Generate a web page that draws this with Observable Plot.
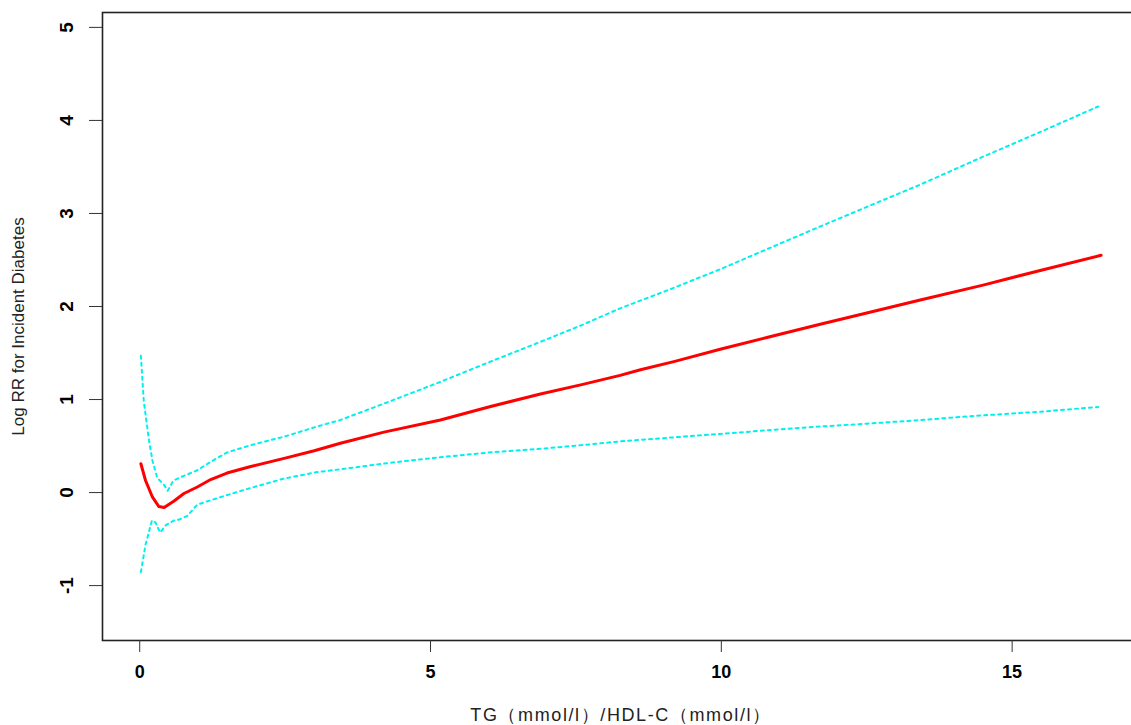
<!DOCTYPE html>
<html>
<head>
<meta charset="utf-8">
<script src="https://cdn.jsdelivr.net/npm/d3@7"></script>
<script src="https://cdn.jsdelivr.net/npm/@observablehq/plot@0.6"></script>
<style>
  html, body { margin: 0; padding: 0; background: #fff; overflow: hidden; }
</style>
</head>
<body>
<div id="chart"></div>
<script>
// Estimate (red solid line)
const estX = [0.02,0.10,0.22,0.33,0.42,0.59,0.76,0.99,1.22,1.5,1.91,2.5,3.0,3.45,4.2,5.17,6.0,6.89,7.6,8.26,8.61,9.2,9.98,10.8,11.70,12.5,13.42,14.5,15.5,16.53];
const estY = [0.31,0.13,-0.05,-0.15,-0.16,-0.09,-0.01,0.06,0.14,0.21,0.28,0.37,0.45,0.53,0.65,0.78,0.92,1.06,1.16,1.26,1.32,1.41,1.54,1.67,1.81,1.93,2.07,2.23,2.39,2.55];

// Upper 95% CI (cyan dotted)
const upX = [0.02,0.07,0.16,0.22,0.30,0.42,0.48,0.58,0.76,0.99,1.22,1.5,1.91,2.48,3.05,3.45,4.3,5.17,6.0,6.89,7.6,8.26,9.1,9.98,10.8,11.70,12.5,13.42,14.5,15.5,16.48];
const upY = [1.47,0.98,0.56,0.34,0.16,0.08,0.02,0.13,0.18,0.24,0.33,0.43,0.51,0.60,0.71,0.78,0.98,1.19,1.40,1.62,1.80,1.98,2.18,2.40,2.62,2.86,3.07,3.31,3.61,3.88,4.15];

// Lower 95% CI (cyan dotted)
const loX = [0.02,0.10,0.16,0.21,0.27,0.35,0.45,0.59,0.68,0.82,0.99,1.33,1.91,2.48,3.05,3.45,4.3,5.17,6.0,6.89,7.6,8.26,9.1,9.98,10.8,11.70,12.5,13.42,14.5,15.5,16.48];
const loY = [-0.855,-0.56,-0.42,-0.30,-0.32,-0.43,-0.35,-0.30,-0.29,-0.25,-0.13,-0.06,0.05,0.15,0.22,0.25,0.32,0.38,0.43,0.47,0.51,0.55,0.59,0.63,0.67,0.71,0.74,0.78,0.83,0.87,0.92];

const xTicks = [0, 5, 10, 15];
const yTicks = [-1, 0, 1, 2, 3, 4, 5];
const xLabel = "TG（mmol/l）/HDL-C（mmol/l）";
const yLabel = "Log RR for Incident Diabetes";

const toRows = (xs, ys) => xs.map((x, i) => ({x, y: ys[i]}));
const est = toRows(estX, estY);
const up = toRows(upX, upY);
const lo = toRows(loX, loY);

const font = "'Liberation Sans', Arial, sans-serif";

const chart = Plot.plot({
  width: 1131,
  height: 725,
  marginLeft: 102,
  marginTop: 12,
  marginBottom: 85,
  marginRight: -8,
  x: {domain: [-0.64, 17.19]},
  y: {domain: [-1.59, 5.16]},
  style: {fontFamily: font, fontSize: "16px", background: "#fff", color: "#000"},
  marks: [
    Plot.frame({stroke: "#222", strokeWidth: 1.6}),
    Plot.axisX(xTicks, {tickSize: 12, tickPadding: 13, tickFormat: d => String(d), label: null, fontSize: 18, fontWeight: "bold", stroke: "#333"}),
    Plot.axisY(yTicks, {tickSize: 13, tickPadding: 17, tickRotate: -90, tickFormat: d => String(d), label: null, fontSize: 19, fontWeight: "bold", stroke: "#333"}),
    Plot.text([xLabel], {text: d => d, frameAnchor: "bottom", textAnchor: "middle", dy: 80, fontSize: 18, fill: "#222", stroke: "none"}),
    Plot.text([yLabel], {text: d => d, frameAnchor: "left", textAnchor: "middle", dx: -84, rotate: -90, fontSize: 17, fill: "#222", stroke: "none"}),
    Plot.line(lo, {x: "x", y: "y", stroke: "#00f0f0", strokeWidth: 2, strokeDasharray: "3,4"}),
    Plot.line(up, {x: "x", y: "y", stroke: "#00f0f0", strokeWidth: 2, strokeDasharray: "3,4"}),
    Plot.line(est, {x: "x", y: "y", stroke: "#ff0000", strokeWidth: 3})
  ]
});
d3.select(chart).selectAll("text")
  .filter(function() { return this.textContent === xLabel; })
  .attr("letter-spacing", "1.6px");
document.getElementById("chart").appendChild(chart);
</script>
</body>
</html>
